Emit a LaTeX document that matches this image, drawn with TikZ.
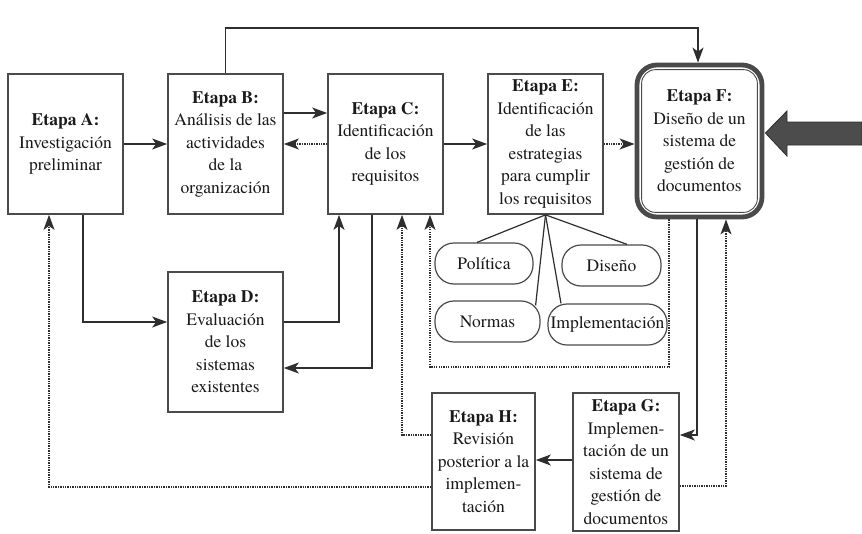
\documentclass[tikz,border=0pt]{standalone}
\usepackage{fontspec}
\setmainfont{texgyretermes}[Extension=.otf,UprightFont=*-regular,BoldFont=*-bold,ItalicFont=*-italic,BoldItalicFont=*-bolditalic]
\usetikzlibrary{arrows.meta}
\definecolor{bx}{HTML}{4A4A4A}
\definecolor{ln}{HTML}{2E2E2E}
\definecolor{tx}{HTML}{1A1A1A}
\definecolor{bigar}{HTML}{4C4C4C}
\begin{document}
\begin{tikzpicture}[x=1pt,y=-1pt,
  txt/.style={font=\fontsize{17.5}{22.5}\selectfont, text=tx, align=center, inner sep=0pt},
  stagebox/.style={txt, draw=bx, line width=1.7pt, fill=white},
  ovalbox/.style={txt, draw=bx, line width=1.2pt, rounded corners=19pt, fill=white},
  fbox/.style={txt, draw=bx, line width=4.8pt, rounded corners=20pt, fill=white},
  arr/.style={draw=ln, line width=1.4pt, -{Stealth[length=15pt,width=11pt,inset=4pt]}},
  darr/.style={arr, dash pattern=on 1.3pt off 1.1pt},
  tline/.style={draw=ln, line width=1.2pt}]
\useasboundingbox (0,0) rectangle (862,533);
\fill[white] (0,0) rectangle (862,533);

% stages
\node[stagebox, minimum width=115pt, minimum height=140pt] (A) at (65.5,144)
  {\textbf{Etapa A:}\\Investigación\\preliminar};
\node[stagebox, minimum width=115pt, minimum height=140pt] (B) at (225.5,144)
  {\textbf{Etapa B:}\\Análisis de las\\actividades\\de la\\organización};
\node[stagebox, minimum width=115pt, minimum height=140pt] (C) at (385.5,144)
  {\textbf{Etapa C:}\\Identificación\\de los\\requisitos};
\node[stagebox, minimum width=115pt, minimum height=140pt] (E) at (545.5,144)
  {\textbf{Etapa E:}\\Identificación\\de las\\estrategias\\para cumplir\\los requisitos};
\node[fbox, minimum width=125pt, minimum height=152pt] (F) at (699.5,141)
  {\textbf{Etapa F:}\\Diseño de un\\sistema de\\gestión de\\documentos};
\draw[draw=bx, line width=0.9pt, rounded corners=14pt]
  ([shift={(7pt,7pt)}]F.south west) rectangle ([shift={(-7pt,-7pt)}]F.north east);
\node[stagebox, minimum width=115pt, minimum height=140pt] (D) at (225.5,342)
  {\textbf{Etapa D:}\\Evaluación\\de los\\sistemas\\existentes};
\node[stagebox, minimum width=103pt, minimum height=137pt] (H) at (483.5,461.5)
  {\textbf{Etapa H:}\\Revisión\\posterior a la\\implemen-\\tación};
\node[stagebox, minimum width=106pt, minimum height=138pt] (G) at (626,462)
  {\textbf{Etapa G:}\\Implemen-\\tación de un\\sistema de\\gestión de\\documentos};

% strategy ovals
\node[ovalbox, minimum width=98pt, minimum height=41pt] (pol) at (484,263.5) {Política};
\node[ovalbox, minimum width=99pt, minimum height=41pt] (dis) at (611.5,265.5) {Diseño};
\node[ovalbox, minimum width=105pt, minimum height=41pt] (nor) at (487.5,321.5) {Normas};
\node[ovalbox, minimum width=119pt, minimum height=41pt] (imp) at (607.5,324.5) {Implementación};

\draw[tline] (E.south) -- ([xshift=-7pt]pol.north);
\draw[tline] (E.south) -- ([xshift=15.5pt]dis.north);
\draw[tline] (E.south) -- ([xshift=-5pt,yshift=-5pt]nor.north east);
\draw[tline] (E.south) -- ([xshift=-46.5pt]imp.north);

% big input arrow
\filldraw[fill=bigar, draw=ln, line width=0.8pt]
  ([xshift=1pt]F.east |- 0,133) -- (787,111) -- (787,122) -- (862,122)
  -- (862,145) -- (787,145) -- (787,156) -- cycle;

% connectors
\coordinate (topR) at (698,28);
\coordinate (fc) at (430,367);
\draw[arr] (A.east) -- (B.west);
\draw[arr] ([yshift=31pt]B.east) -- ([yshift=31pt]C.west);
\draw[darr] (C.west) -- (B.east);
\draw[arr] (C.east) -- (E.west);
\draw[darr] (E.east) -- (E.east -| F.west);
\draw[arr] (B.north) |- (topR) -- ([xshift=-1.5pt]F.north);
\draw[arr] ([xshift=17.5pt]A.south) |- ([yshift=20pt]D.west);
\draw[arr] ([yshift=20pt]D.east) -| ([xshift=-46.5pt]C.south);
\draw[arr] ([xshift=-13.5pt]C.south) |- ([yshift=-26pt]D.east);
\draw[darr] ([yshift=26.5pt]H.west) -| ([xshift=16.5pt]C.south);
\draw[darr] ([xshift=-30.5pt]F.south) |- (fc) -- ([xshift=44.5pt]C.south);
\draw[arr] ([xshift=-2.5pt]F.south) |- ([yshift=27pt]G.east);
\draw[arr] ([yshift=2pt]G.west) -- ([yshift=2pt]G.west -| H.east);
\draw[darr] ([yshift=-24pt]G.east) -| ([xshift=26.5pt]F.south);
\draw[darr] ([yshift=-25.5pt]H.west) -| ([xshift=-16.5pt]A.south);
\end{tikzpicture}
\end{document}
